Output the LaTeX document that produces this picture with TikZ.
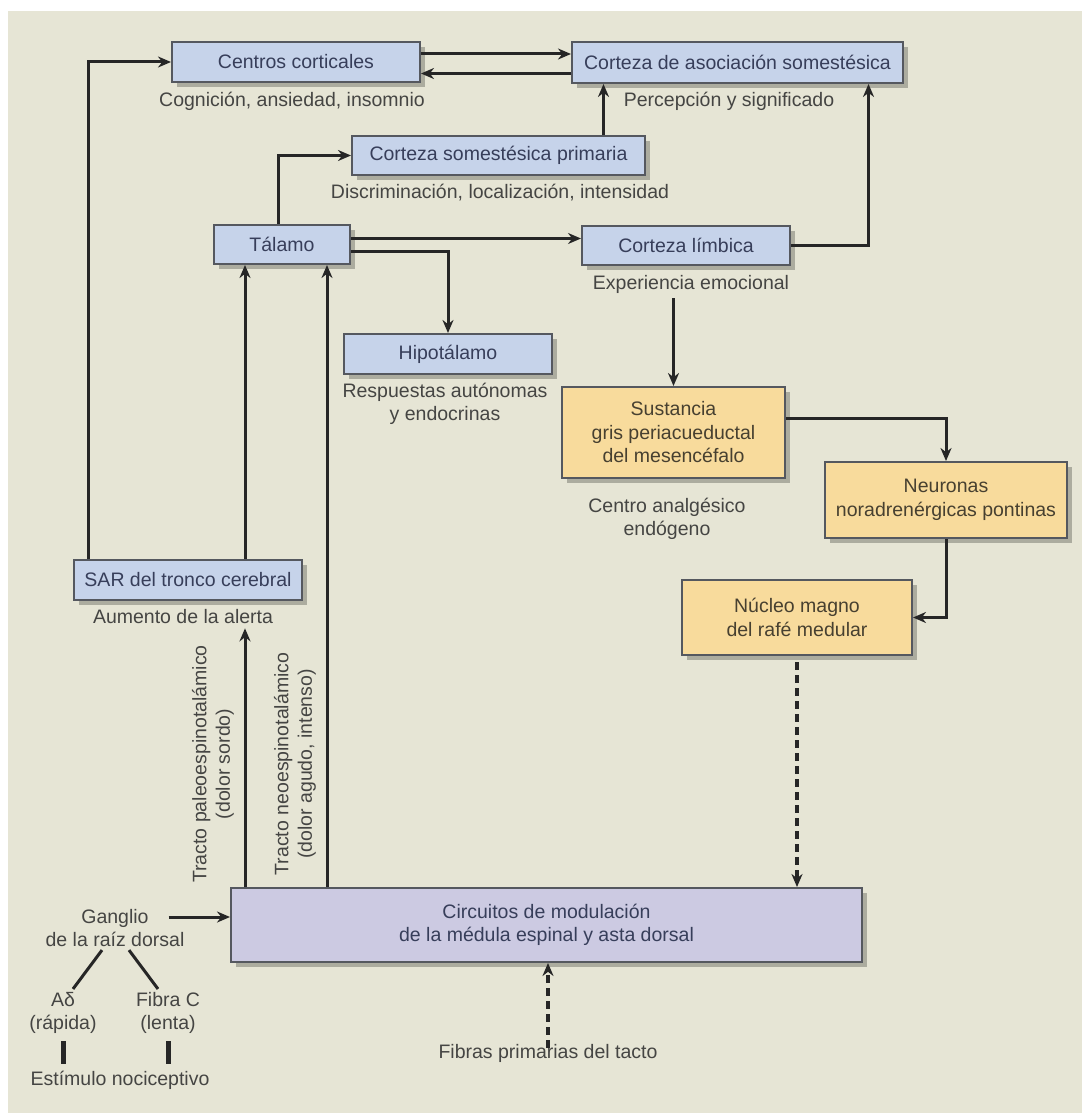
\documentclass[tikz,border=0pt]{standalone}
\usepackage{fontspec}
\setmainfont{Liberation Sans}
\usetikzlibrary{shadows,arrows.meta}
\definecolor{fondo}{HTML}{E6E5D5}
\definecolor{azul}{HTML}{C6D3EA}
\definecolor{amarillo}{HTML}{F8DB9C}
\definecolor{lila}{HTML}{CCCAE2}
\definecolor{borde}{HTML}{55585F}
\definecolor{linea}{HTML}{262626}
\definecolor{texto}{HTML}{454543}
\definecolor{textoazul}{HTML}{373E5A}
\definecolor{textoama}{HTML}{474030}
\definecolor{sombra}{HTML}{A6A69A}

\begin{document}
\begin{tikzpicture}[x=1pt,y=-1pt,>={Stealth[length=13pt,width=11pt]},
  caja/.style={draw=borde,line width=2pt,inner sep=0pt,align=center,text=textoazul,
    font=\fontsize{19.5}{23.5}\selectfont,
    drop shadow={shadow xshift=5pt,shadow yshift=-5pt,fill=sombra,opacity=0.9}},
  cazul/.style={caja,fill=azul},
  cama/.style={caja,fill=amarillo,text=textoama},
  clila/.style={caja,fill=lila},
  etiq/.style={text=texto,font=\fontsize{19.5}{23.5}\selectfont,align=center,inner sep=0pt},
  flecha/.style={->,draw=linea,line width=3pt},
  discont/.style={dash pattern=on 8pt off 5pt,line width=4pt},
  barra/.style={draw=linea,line width=5pt}]
\useasboundingbox (0,0) rectangle (1082,1115);
\fill[white] (0,0) rectangle (1082,1115);
\fill[fondo] (8,11) rectangle (1082,1113);

\node[cazul,minimum width=248pt,minimum height=40pt] (cc) at (296,62) {Centros corticales};
\node[cazul,minimum width=331pt,minimum height=41pt] (ca) at (737.5,62.5) {Corteza de asociación somestésica};
\node[cazul,minimum width=293pt,minimum height=39pt] (cp) at (498.5,155.5) {Corteza somestésica primaria};
\node[cazul,minimum width=136pt,minimum height=39pt] (ta) at (282,244.5) {Tálamo};
\node[cazul,minimum width=208pt,minimum height=39pt] (cl) at (686,245.5) {Corteza límbica};
\node[cazul,minimum width=208pt,minimum height=40pt] (hi) at (448,354) {Hipotálamo};
\node[cama,minimum width=223pt,minimum height=91pt] (sg) at (673.5,432.5) {Sustancia\\gris periacueductal\\del mesencéfalo};
\node[cama,minimum width=242pt,minimum height=76pt] (nn) at (946,500) {Neuronas\\noradrenérgicas pontinas};
\node[cama,minimum width=230pt,minimum height=75pt] (nm) at (797,617.5) {Núcleo magno\\del rafé medular};
\node[cazul,minimum width=228pt,minimum height=40pt] (sar) at (188,580) {SAR del tronco cerebral};
\node[clila,minimum width=631pt,minimum height=74pt] (cm) at (546.5,925) {Circuitos de modulación\\de la médula espinal y asta dorsal};

\node[etiq] (cog) at (292,101) {Cognición, ansiedad, insomnio};
\node[etiq] (perc) at (729,101) {Percepción y significado};
\node[etiq] (disc) at (500,193) {Discriminación, localización, intensidad};
\node[etiq] (emo) at (691,284) {Experiencia emocional};
\node[etiq] (resp) at (445,404) {Respuestas autónomas\\y endocrinas};
\node[etiq] (anal) at (667,519) {Centro analgésico\\endógeno};
\node[etiq] (alerta) at (183,617) {Aumento de la alerta};
\node[etiq,rotate=90] (paleo) at (213,764) {Tracto paleoespinotalámico\\(dolor sordo)};
\node[etiq,rotate=90] (neo) at (295,764) {Tracto neoespinotalámico\\(dolor agudo, intenso)};
\node[etiq] (gang) at (115,928) {Ganglio\\de la raíz dorsal};
\node[etiq] (ad) at (63,1013) {Aδ\\(rápida)};
\node[etiq] (fc) at (168,1013) {Fibra C\\(lenta)};
\node[etiq] (estim) at (120,1080) {Estímulo nociceptivo};
\node[etiq] (tacto) at (548,1053) {Fibras primarias del tacto};

\draw[flecha] ([yshift=8pt]cc.east) -- ([yshift=8pt]cc.east -| ca.west);
\draw[flecha] ([yshift=-11pt]ca.west) -- ([yshift=-11pt]ca.west -| cc.east);
\draw[flecha] ([xshift=105pt]cp.north) -- ([xshift=105pt]cp.north |- ca.south);
\draw[flecha] (cl.east) -| ([xshift=131pt]ca.south);
\draw[flecha] ([xshift=-4pt]ta.north) |- (cp.west);
\draw[flecha] ([yshift=6pt]ta.east) -- ([yshift=6pt]ta.east -| cl.west);
\draw[flecha] ([yshift=-7pt]ta.east) -| (hi.north);
\draw[flecha] ([yshift=-5pt]emo.south -| sg.north) -- (sg.north);
\draw[flecha] ([yshift=14pt]sg.east) -| (nn.north);
\draw[flecha] (nn.south) |- (nm.east);
\draw[flecha,discont] ([yshift=-6pt]nm.south) -- (nm.south |- cm.north);
\draw[flecha] ([xshift=-100pt]sar.north) |- (cc.west);
\draw[flecha] ([xshift=57pt]sar.north) -- ([xshift=57pt]sar.north |- ta.south);
\draw[flecha] ([xshift=57pt]sar.north |- cm.north) -- ([xshift=57pt,yshift=-4pt]sar.north |- alerta.south);
\draw[flecha] ([xshift=45pt]ta.south |- cm.north) -- ([xshift=45pt]ta.south);
\draw[flecha] ([xshift=-16pt,yshift=11pt]gang.east) -- ([yshift=11pt]gang.east -| cm.west);
\draw[flecha,discont] ([yshift=-4pt]tacto.north) -- (tacto.north |- cm.south);
\draw[draw=linea,line width=3pt] ([xshift=-13pt,yshift=-3pt]gang.south) -- ([xshift=10pt,yshift=3pt]ad.north);
\draw[draw=linea,line width=3pt] ([xshift=14pt,yshift=-3pt]gang.south) -- ([xshift=-10pt,yshift=3pt]fc.north);
\draw[barra] ([yshift=-7pt]ad.south) -- ([yshift=7pt]estim.north -| ad.south);
\draw[barra] ([yshift=-7pt]fc.south) -- ([yshift=7pt]estim.north -| fc.south);
\end{tikzpicture}
\end{document}
